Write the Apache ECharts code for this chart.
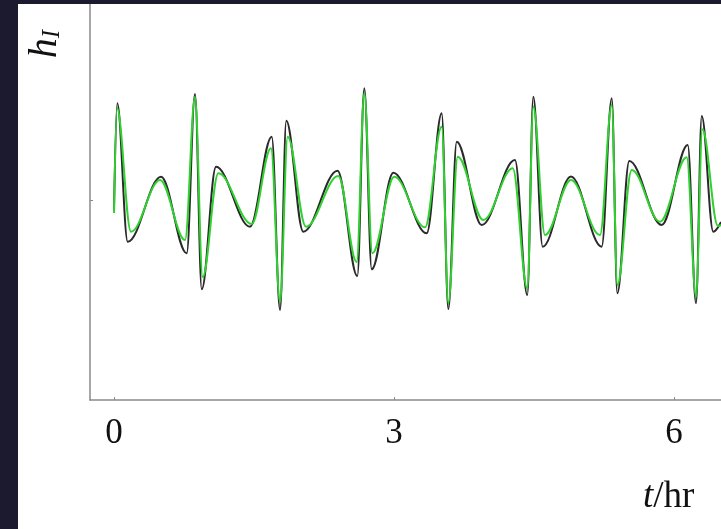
<!DOCTYPE html>
<html>
<head>
<meta charset="utf-8">
<script src="https://cdn.jsdelivr.net/npm/echarts@6/dist/echarts.min.js"></script>
<style>
html,body{margin:0;padding:0;background:#ffffff;}
#chart{width:721px;height:529px;}
</style>
</head>
<body>
<div id="chart"></div>
<script>
// time in hours
var blackT = [0, 0.035, 0.147, 0.504, 0.779, 0.868, 0.940, 1.093, 1.457, 1.690, 1.779, 1.846, 2.028, 2.395, 2.607, 2.682, 2.761, 2.993, 3.350, 3.511, 3.582, 3.672, 3.940, 4.296, 4.428, 4.493, 4.593, 4.896, 5.225, 5.333, 5.393, 5.521, 5.868, 6.147, 6.236, 6.297, 6.421, 6.504];
var blackH = [-0.10, 0.967, -0.417, 0.233, -0.533, 1.06, -0.893, 0.333, -0.267, 0.633, -1.10, 0.793, -0.317, 0.293, -0.76, 1.117, -0.693, 0.273, -0.333, 0.867, -1.09, 0.583, -0.25, 0.40, -0.95, 1.033, -0.467, 0.235, -0.467, 1.017, -0.933, 0.39, -0.25, 0.55, -1.033, 0.84, -0.317, -0.22];
var greenT = [0, 0.032, 0.182, 0.493, 0.761, 0.868, 0.950, 1.118, 1.475, 1.682, 1.779, 1.861, 2.057, 2.403, 2.600, 2.682, 2.768, 3.003, 3.332, 3.511, 3.582, 3.683, 3.957, 4.272, 4.428, 4.493, 4.618, 4.896, 5.207, 5.333, 5.393, 5.547, 5.850, 6.136, 6.236, 6.304, 6.471, 6.504];
var greenH = [-0.13, 0.92, -0.317, 0.20, -0.40, 1.03, -0.77, 0.267, -0.24, 0.517, -1.02, 0.633, -0.267, 0.24, -0.62, 1.07, -0.533, 0.233, -0.273, 0.733, -1.03, 0.433, -0.20, 0.317, -0.883, 0.933, -0.35, 0.20, -0.35, 0.95, -0.85, 0.30, -0.217, 0.427, -0.967, 0.707, -0.26, -0.25];
var xTickValues = [0, 3, 6];
var yTickValues = [0];

function pairs(t, h) { return t.map(function (v, i) { return [v, h[i]]; }); }

var chart = echarts.init(document.getElementById('chart'), null, {renderer: 'canvas'});
chart.setOption({
  backgroundColor: '#ffffff',
  animation: false,
  grid: {left: 90, right: 0, top: 0, bottom: 129, containLabel: false},
  xAxis: {
    type: 'value', min: -0.2571, max: 6.5036,
    axisLine: {show: true, onZero: false, lineStyle: {color: '#8a8a8a', width: 1.5}},
    axisTick: {show: true, inside: true, length: 3, customValues: xTickValues, lineStyle: {color: '#8a8a8a'}},
    axisLabel: {show: true, customValues: xTickValues, margin: 16, color: '#111',
      fontFamily: 'Liberation Serif', fontSize: 35},
    splitLine: {show: false}
  },
  yAxis: {
    type: 'value', min: -2, max: 2,
    axisLine: {show: true, onZero: false, lineStyle: {color: '#8a8a8a', width: 1.5}},
    axisTick: {show: true, inside: true, length: 3, customValues: yTickValues, lineStyle: {color: '#8a8a8a'}},
    axisLabel: {show: false},
    splitLine: {show: false}
  },
  series: [
    {type: 'line', data: pairs(blackT, blackH), showSymbol: false, smooth: 0.36, smoothMonotone: 'x',
      lineStyle: {color: '#2a2a2a', width: 2}, z: 2},
    {type: 'line', data: pairs(greenT, greenH), showSymbol: false, smooth: 0.36, smoothMonotone: 'x',
      lineStyle: {color: '#2fd12f', width: 2}, z: 3}
  ],
  graphic: [
    {type: 'text', x: 643, y: 497, style: {text: '{i|t}{r|/hr}', verticalAlign: 'middle',
      rich: {i: {fontFamily: 'Liberation Serif', fontStyle: 'italic', fontSize: 37, fill: '#111'},
             r: {fontFamily: 'Liberation Serif', fontSize: 37, fill: '#111'}}}},
    {type: 'text', x: 45, y: 44, rotation: Math.PI / 2, style: {text: '{i|h}{s|I}', align: 'center', verticalAlign: 'middle',
      rich: {i: {fontFamily: 'Liberation Serif', fontStyle: 'italic', fontSize: 40, fill: '#111'},
             s: {fontFamily: 'Liberation Serif', fontStyle: 'italic', fontSize: 25, fill: '#111', padding: [14, 0, 0, 0]}}}},
    {type: 'rect', left: 0, top: 0, z: 100, shape: {width: 18, height: 529}, style: {fill: '#1b1a2f'}},
    {type: 'rect', left: 0, top: 0, z: 100, shape: {width: 721, height: 4}, style: {fill: '#1b1a2f'}}
  ]
});
</script>
</body>
</html>
